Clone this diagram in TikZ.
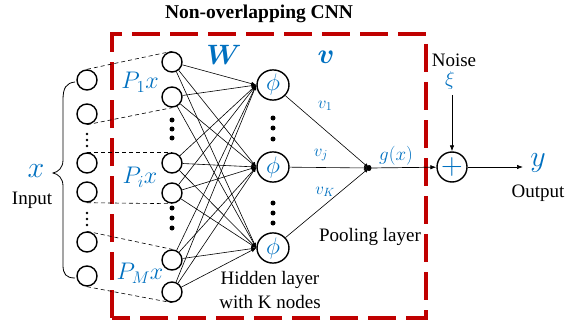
\RequirePackage{fix-cm}
\documentclass[tikz,border=0pt]{standalone}
\usepackage{fontspec}
\setmainfont{Liberation Serif}
\usepackage{bm}
\usetikzlibrary{arrows.meta,shapes.geometric}
\definecolor{ablue}{HTML}{0070C0}
\definecolor{ared}{HTML}{C00000}
\begin{document}
\begin{tikzpicture}[x=1pt,y=-1pt,
  every node/.style={font=\fontsize{19}{23}\selectfont},
  unit/.style={circle,draw,line width=1.4pt,minimum size=20pt,inner sep=0pt},
  act/.style={ellipse,draw,line width=1.4pt,minimum width=32pt,minimum height=24pt,inner sep=0pt,text=ablue},
  wline/.style={line width=0.6pt,-{Latex[length=5pt,width=4pt]}},
  dline/.style={line width=0.6pt,dash pattern=on 4pt off 3pt},
  bdot/.style={circle,fill,inner sep=0pt,minimum size=5pt},
  sdot/.style={circle,fill,inner sep=0pt,minimum size=2.6pt},
  mlab/.style={text=ablue,inner sep=0pt},
  arr/.style={line width=0.7pt,-{Latex[length=6pt,width=4.5pt]}}]
\useasboundingbox (0,0) rectangle (568,321);
% red dashed box
\draw[ared,line width=3.5pt,dash pattern=on 28pt off 10pt] (112,318) -- (112,34) -- (426,34) -- (426,318) -- cycle;
\node[font=\fontsize{19.5}{23}\selectfont\bfseries] (title) at (259,14) {Non-overlapping CNN};
% input units
\foreach \n/\y in {1/80,2/114,3/163,4/192,5/242,6/276}
  \node[unit] (i\n) at (87,\y) {};
% hidden input units
\foreach \n/\y in {1/62,2/97,3/163,4/193,5/260,6/292}
  \node[unit] (h\n) at (172,\y) {};
% activation units
\node[act] (p1) at (273,85) {\fontsize{24}{24}\selectfont$\phi$};
\node[act] (p2) at (273,167) {\fontsize{24}{24}\selectfont$\phi$};
\node[act] (p3) at (273,248) {\fontsize{24}{24}\selectfont$\phi$};
% dots
\foreach \y in {134,140,146} \node[sdot] at (87,\y) {};
\foreach \y in {213,219,225} \node[sdot] at (87,\y) {};
\foreach \y in {120,129,138} \node[bdot] at (172,\y) {};
\foreach \y in {208,218,228} \node[bdot] at (172,\y) {};
\foreach \y in {118,128,139} \node[bdot] at (273,\y) {};
\foreach \y in {203,213,223} \node[bdot] at (273,\y) {};
% dashed patch lines
\draw[dline] (i1.north) -- (h1.north);
\draw[dline] (i2.south) -- (h2.south);
\draw[dline] (i3.north) -- (h3.north);
\draw[dline] (i4.south) -- (h4.south);
\draw[dline] (i5.north) -- (h5.north);
\draw[dline] (i6.south) -- (h6.south);
% weights
\foreach \a in {1,...,6}
  \foreach \b in {1,2,3}
    \draw[wline] (h\a) -- (p\b.west);
% pooling
\coordinate (pool) at (369,168);
\draw[wline] (p1) -- (pool);
\draw[wline] (p2) -- (pool);
\draw[wline] (p3) -- (pool);
\fill (pool) ellipse (2.5pt and 3pt);
\node[unit,minimum size=30pt,text=ablue] (plus) at (452,167) {\fontsize{30}{30}\selectfont$+$};
\draw[arr] (pool) -- (plus);
\coordinate (yend) at (523,167);
\draw[arr] (plus) -- (yend);
\node[mlab] (xi) at (450,80) {\fontsize{20}{20}\selectfont$\xi$};
\node (noise) at (454,60) {Noise};
\coordinate (xs) at (452,95);
\draw[arr] (xs) -- (plus.north);
% labels
\node[mlab] (y) at (538,163) {\fontsize{30}{30}\selectfont$y$};
\node (out) at (538,193) {Output};
\node[mlab] (vv1) at (325,106) {\fontsize{17}{17}\selectfont$v_1$};
\node[mlab] (vvj) at (321,155) {\fontsize{17}{17}\selectfont$v_j$};
\node[mlab] (vvK) at (325,192) {\fontsize{17}{17}\selectfont$v_K$};
\node[mlab] (g) at (396,156) {\fontsize{19}{19}\selectfont$g(x)$};
\node (pl) at (370,237) {Pooling layer};
\node[align=center,font=\fontsize{19}{24}\selectfont] (hl) at (270,290) {Hidden layer\\with K nodes};
\node[mlab] (W) at (224,55) {\fontsize{28}{28}\selectfont$\bm{W}$};
\node[mlab] (v) at (326,57) {\fontsize{28}{28}\selectfont$\bm{v}$};
\node[mlab] (P1) at (140,82) {\fontsize{24}{24}\selectfont$P_1x$};
\node[mlab] (Pi) at (140,177) {\fontsize{24}{24}\selectfont$P_ix$};
\node[mlab] (PM) at (140,273) {\fontsize{24}{24}\selectfont$P_Mx$};
\node[mlab] (x) at (36,171) {\fontsize{30}{30}\selectfont$x$};
\node (inp) at (32,200) {Input};
% brace
\draw[line width=0.8pt] (75,82) .. controls (66,83) and (63,88) .. (63,100) -- (63,160) .. controls (63,168) and (58,172) .. (53,173) .. controls (58,174) and (63,178) .. (63,186) -- (63,265) .. controls (63,274) and (66,278) .. (75,278);
\end{tikzpicture}
\end{document}
